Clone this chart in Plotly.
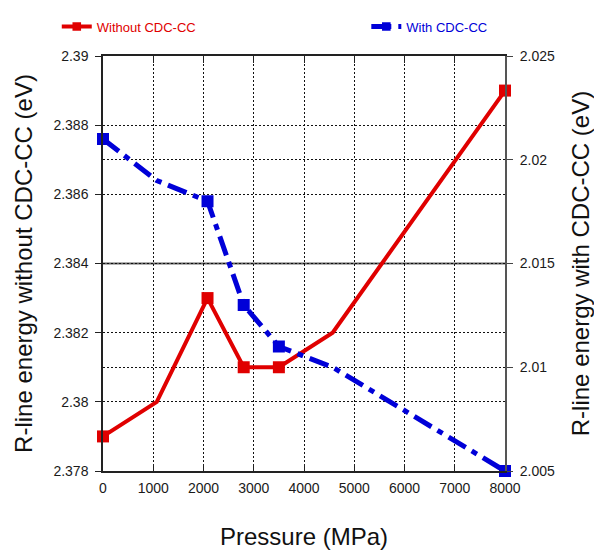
import plotly.graph_objects as go

pressure = [0, 1070, 2080, 2800, 3500, 4570, 8000]
without_cdc = [2.379, 2.380, 2.383, 2.381, 2.381, 2.382, 2.389]
with_cdc = [2.021, 2.019, 2.018, 2.013, 2.011, 2.010, 2.005]
marker_shown = [True, False, True, True, True, False, True]

x_ticks = [0, 1000, 2000, 3000, 4000, 5000, 6000, 7000, 8000]
left_ticks = [2.378, 2.38, 2.382, 2.384, 2.386, 2.388, 2.39]
right_ticks = [2.005, 2.01, 2.015, 2.02, 2.025]

RED = "#e00000"
BLUE = "#0000d8"
FONT = "Liberation Sans, Arial, sans-serif"
msize = [12 if m else 0 for m in marker_shown]

fig = go.Figure()
fig.add_trace(go.Scatter(
    x=pressure, y=without_cdc, name="Without CDC-CC", mode="lines+markers",
    line=dict(color=RED, width=4),
    marker=dict(symbol="square", size=msize, color=RED, opacity=1, line=dict(width=0)),
    legend="legend", yaxis="y", showlegend=True, cliponaxis=False,
))
fig.add_trace(go.Scatter(
    x=pressure, y=with_cdc, name="With CDC-CC", mode="lines+markers",
    line=dict(color=BLUE, width=5, dash="20px,7px,6px,7px"),
    marker=dict(symbol="square", size=msize, color=BLUE, opacity=1, line=dict(width=0)),
    legend="legend2", yaxis="y2", showlegend=True, cliponaxis=False,
))

fig.add_hline(y=2.384, line=dict(color="#666666", width=2), layer="below")

title_font = dict(size=24, color="#111111", family=FONT)
fig.update_layout(
    width=594, height=551, showlegend=True,
    margin=dict(l=103, r=89, t=49, b=80),
    paper_bgcolor="white", plot_bgcolor="white",
    font=dict(family=FONT, size=14, color="#1a1a1a"),
    xaxis=dict(
        range=[0, 8000], tickvals=x_ticks, showgrid=True, automargin=False,
        gridcolor="#111111", griddash="2px,2px", gridwidth=1,
        ticks="inside", ticklen=7, tickcolor="#222222",
        showline=True, linecolor="#222222", linewidth=1.5, mirror="ticks",
        zeroline=False, ticklabelstandoff=3,
        title=dict(text="Pressure (MPa)", font=title_font, standoff=34),
    ),
    yaxis=dict(
        range=[2.378, 2.39], tickvals=left_ticks, showgrid=True, automargin=False,
        gridcolor="#111111", griddash="2px,2px", gridwidth=1,
        ticks="outside", ticklen=6, tickcolor="#222222",
        showline=True, linecolor="#222222", linewidth=1.5,
        zeroline=False, ticklabelstandoff=4,
        title=dict(text="R-line energy without CDC-CC (eV)", font=title_font, standoff=14),
    ),
    yaxis2=dict(
        range=[2.005, 2.025], tickvals=right_ticks, overlaying="y", side="right",
        showgrid=True, gridcolor="#111111", griddash="2px,2px", gridwidth=1, automargin=False,
        ticks="outside", ticklen=6, tickcolor="#444444",
        showline=True, linecolor="#555555", linewidth=2,
        zeroline=False, ticklabelstandoff=4,
        title=dict(text="R-line energy with CDC-CC (eV)", font=title_font, standoff=18),
    ),
    legend=dict(x=-0.115, y=1.071, xanchor="left", yanchor="middle", visible=True,
                font=dict(size=13, color=RED, family=FONT), bgcolor="rgba(0,0,0,0)"),
    legend2=dict(x=0.655, y=1.071, xanchor="left", yanchor="middle", visible=True,
                 font=dict(size=13, color=BLUE, family=FONT), bgcolor="rgba(0,0,0,0)"),
)

fig.write_html("out.html", post_script="document.body.style.margin='0';",
               config={"displayModeBar": False})
